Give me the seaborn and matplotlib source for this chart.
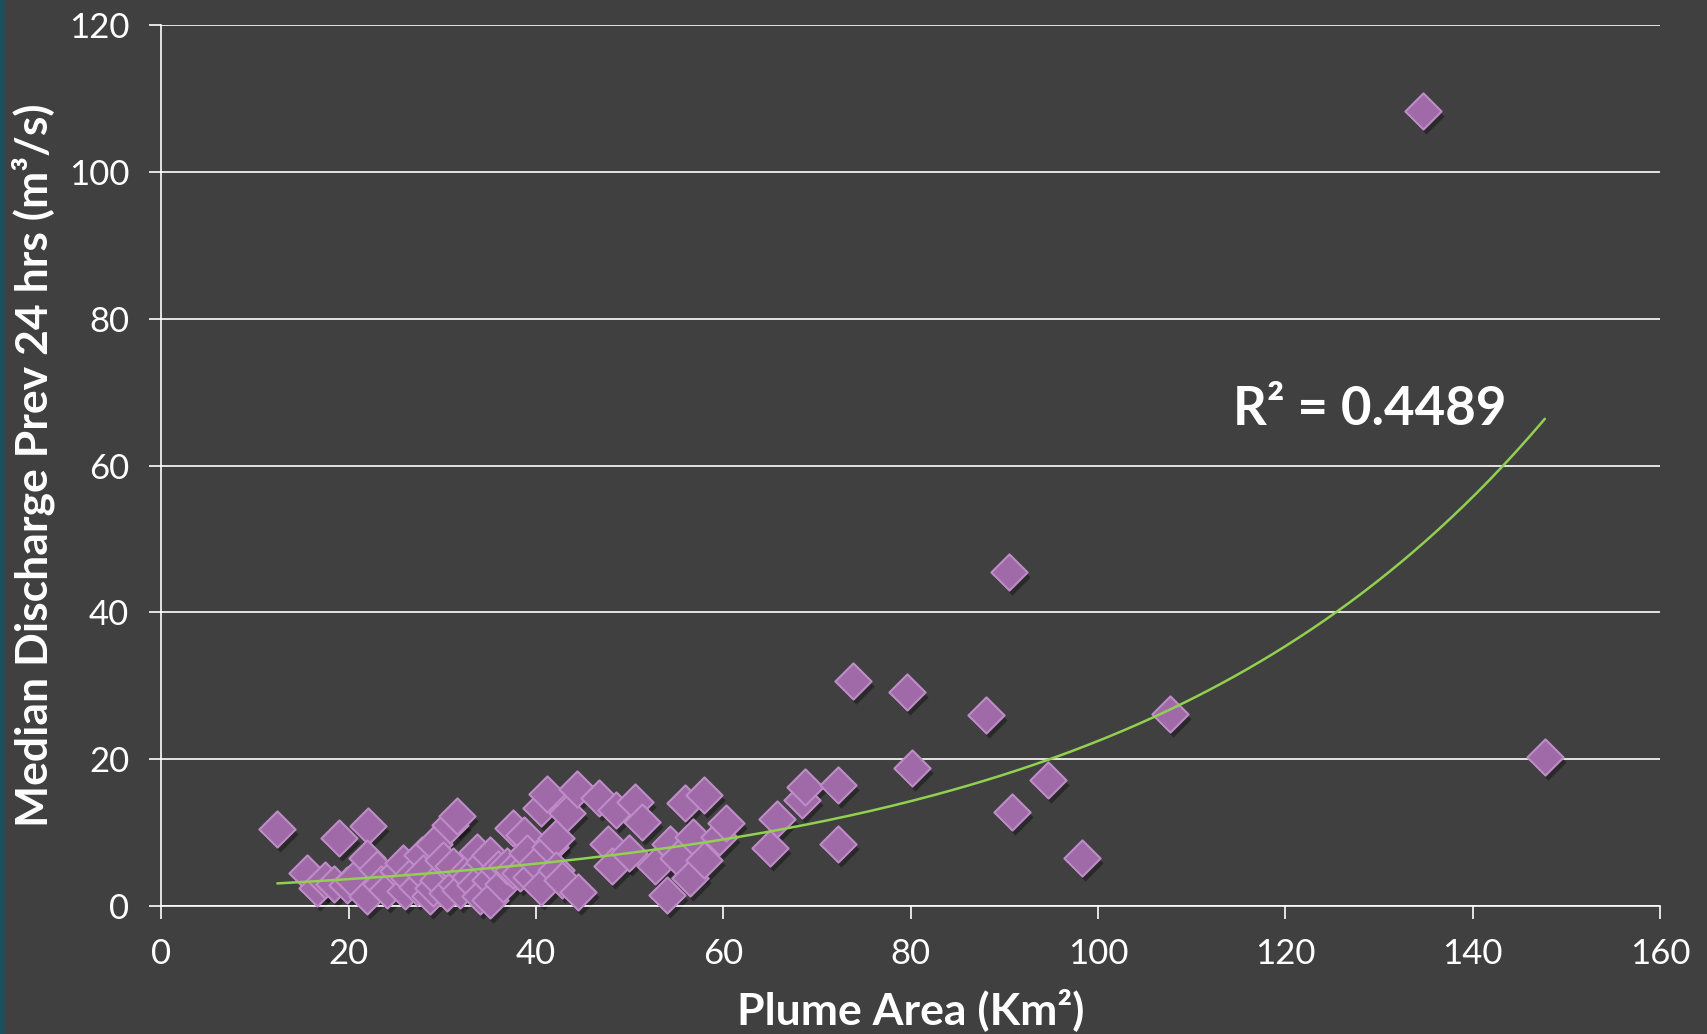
import matplotlib
matplotlib.use("Agg")
import matplotlib.pyplot as plt
import matplotlib.transforms as mtransforms
from matplotlib.patches import Rectangle
import seaborn as sns
import numpy as np
import pandas as pd

# valores
plume_area = [12.4, 15.6, 16.6, 17.5, 18.5, 19.0, 19.8, 20.5, 22.1, 22.0, 22.0, 23.0, 23.5,
              24.1, 25.3, 25.8, 26.0, 26.5, 27.3, 27.8, 28.0, 28.7, 29.0, 29.1, 29.5, 30.1,
              30.5, 30.8, 31.2, 31.5, 31.6, 31.9, 32.5, 33.0, 33.5, 33.7, 34.0, 34.5, 35.1,
              35.1, 35.1, 36.0, 36.5, 36.9, 37.6, 37.6, 38.3, 38.7, 39.0, 39.5, 40.1, 40.5,
              40.6, 41.2, 41.5, 42.1, 42.2, 42.8, 43.3, 44.4, 44.5, 46.7, 47.7, 48.1, 48.6,
              49.9, 50.6, 51.3, 52.7, 54.0, 54.3, 55.2, 55.9, 56.5, 56.8, 57.9, 57.9, 59.5,
              60.3, 65.0, 65.7, 68.4, 68.7, 72.3, 72.3, 73.8, 79.6, 80.1, 88.1, 90.5, 90.8,
              94.7, 98.3, 107.7, 134.7, 147.7]
discharge = [10.5, 4.5, 2.5, 3.5, 3.0, 9.2, 2.8, 3.5, 10.9, 6.5, 1.3, 5.0, 3.0,
             2.2, 4.7, 5.8, 2.0, 3.8, 2.6, 6.9, 4.5, 1.3, 2.5, 8.5, 3.5, 6.3,
             1.8, 11.0, 5.4, 3.0, 12.3, 2.2, 4.5, 4.0, 2.8, 7.4, 1.3, 6.0, 3.5,
             6.9, 0.8, 5.0, 3.0, 5.4, 10.6, 4.9, 4.5, 9.7, 7.2, 4.0, 5.8, 2.6,
             13.3, 15.3, 8.0, 9.2, 4.9, 3.5, 12.6, 16.0, 1.9, 14.7, 8.5, 5.4, 13.1,
             7.2, 14.2, 11.5, 5.4, 1.5, 8.5, 6.5, 14.0, 3.8, 9.4, 15.1, 6.3, 9.4,
             11.3, 7.9, 11.9, 14.4, 16.2, 16.5, 8.5, 30.6, 29.1, 18.8, 26.0, 45.5, 12.8,
             17.2, 6.6, 26.1, 108.3, 20.3]
x_ticks = [0, 20, 40, 60, 80, 100, 120, 140, 160]
y_ticks = [0, 20, 40, 60, 80, 100, 120]
r2_label = "R² = 0.4489"

fondo = "#404040"
sns.set_style("dark", {"axes.facecolor": fondo, "figure.facecolor": fondo,
                       "axes.edgecolor": "white", "grid.color": "white"})
plt.rcParams["font.family"] = ["Lato", "DejaVu Sans"]

df = pd.DataFrame({"area": plume_area, "discharge": discharge})

fig = plt.figure(figsize=(17.07, 10.34), dpi=100)
ax = fig.add_axes([0.0944, 0.1238, 0.8781, 0.852])

# sombra de los marcadores
sombra = mtransforms.offset_copy(ax.transData, fig=fig, x=3, y=-5, units="dots")
ax.scatter(df["area"], df["discharge"], marker="D", s=340, color="black", alpha=0.35,
           linewidths=0, transform=sombra, clip_on=False, zorder=2)
sns.scatterplot(data=df, x="area", y="discharge", marker="D", s=340, color="#A06AA8",
                edgecolor="#BE8CC6", linewidth=1.5, ax=ax, zorder=3, clip_on=False)

# linea de tendencia exponencial (ajuste sobre ln y, como Excel)
b, ln_a = np.polyfit(df["area"], np.log(df["discharge"]), 1)
xs = np.linspace(df["area"].min(), df["area"].max(), 300)
sns.lineplot(x=xs, y=np.exp(ln_a) * np.exp(b * xs), color="#92D050", linewidth=1.8,
             ax=ax, zorder=4)
ax.text(114.4, 65.5, r2_label, fontsize=38, fontweight="bold", color="white",
        ha="left", va="baseline", zorder=5)

ax.set_xlim(0, 160)
ax.set_ylim(0, 120)
ax.set_xticks(x_ticks)
ax.set_yticks(y_ticks)
ax.set_axisbelow(True)
ax.grid(axis="y", color="white", linewidth=1.2)
ax.grid(axis="x", visible=False)
for lado in ["top", "right"]:
    ax.spines[lado].set_visible(False)
for lado in ["left", "bottom"]:
    ax.spines[lado].set_color("white")
    ax.spines[lado].set_linewidth(1.2)
ax.tick_params(axis="both", colors="white", length=9, width=1.2, pad=14,
               labelsize=25, direction="out", bottom=True, left=True)
for lbl in ax.get_xticklabels() + ax.get_yticklabels():
    lbl.set_fontweight("normal")

ax.set_xlabel("Plume Area (Km²)", fontsize=32, fontweight="bold", color="white")
ax.xaxis.set_label_coords(0.5, -0.093)
ax.set_ylabel("Median Discharge Prev 24 hrs (m³/s)", fontsize=32, fontweight="bold", color="white")
ax.yaxis.set_label_coords(-0.071, 0.5)

fig.add_artist(Rectangle((0, 0), 0.0025, 1, transform=fig.transFigure, color="#1E4D5C"))

fig.savefig("out.png", dpi=100, facecolor=fondo)
